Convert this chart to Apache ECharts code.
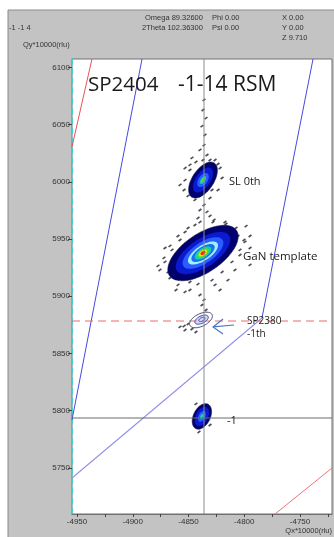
<!DOCTYPE html>
<html><head><meta charset="utf-8">
<script src="https://cdn.jsdelivr.net/npm/echarts@6/dist/echarts.min.js"></script>
<style>html,body{margin:0;padding:0;background:#fff}#c{width:334px;height:537px}</style>
</head><body><div id="c"></div>
<script>
// Axis ranges and ticks (Qx*10000, Qy*10000 in rlu)
const xMin = -4954.5, xMax = -4721.3;
const yMin = 5709.7, yMax = 6107.4;
const xTickLabels = [-4950, -4900, -4850, -4800, -4750];
const xMinorTicks = [-4950, -4925, -4900, -4875, -4850, -4825, -4800, -4775, -4750, -4725];
const yTickLabels = [5750, 5800, 5850, 5900, 5950, 6000, 6050, 6100];

// Peak intensity contours (filled ellipses): centre, semi-axes, tilt, level
const peakQx    = [-4837,-4837,-4837,-4837,-4837,-4837,-4837,-4837,-4837,  -4837,-4837,-4837,-4837,-4837,  -4838,-4838,-4838,-4838];
const peakQy    = [5937.8,5937.8,5937.8,5937.8,5937.8,5937.8,5937.8,5937.8,5937.8,  6001.6,6001.6,6001.6,6001.6,6001.6,  5795,5795,5795,5795];
const peakA     = [36,28,21,15.5,12,8.5,6,4,2.5,  18,12.5,7,4,2,  12,9,5,2.5];
const peakB     = [17,12.5,9.2,6.6,5.2,4,3,2.2,1.5,  9.5,6.5,4,2,1.2,  7.5,5.5,3,1.5];
const peakAngle = [33,33,33,33,33,33,33,33,33,  55,55,55,55,55,  62,62,62,62];
const peakLevel = [0,1,2,3,4,5,6,7,8,  0,1,2,5,6,  0,1,2,5];

// SP2380 -1th satellite contour outlines
const contourQx    = [-4838.8, -4838.3, -4838.0];
const contourQy    = [5879.3, 5879.6, 5879.8];
const contourA     = [11, 6.5, 3];
const contourB     = [5.5, 3.2, 1.5];
const contourAngle = [25, 25, 25];

// Weak scattered intensity (speckles)
const speckleQx = [-4836.1,-4837.0,-4834.3,-4837.9,-4835.2,-4836.1,-4839.7,-4833.4,-4837.0,
  -4853.1,-4848.7,-4826.2,-4821.7,-4823.5,-4850.4,-4844.2,-4830.7,-4857.6,-4819.9,-4846.9,
  -4836.1,-4839.7,-4833.4,-4830.7,-4841.5,-4828.0,-4844.2,-4821.7,
  -4875.6,-4871.1,-4866.6,-4859.4,-4864.8,-4857.6,-4853.1,-4812.8,-4805.6,-4799.3,-4803.8,-4808.3,-4814.6,-4826.2,-4848.7,-4839.7,-4794.8,-4817.3,-4871.1,-4794.8,
  -4868.4,-4862.1,-4855.8,-4848.7,-4841.5,-4828.9,-4819.9,-4811.0,-4803.8,-4800.2,-4807.4,-4816.4,-4827.1,-4839.7,-4850.4,-4859.4,-4866.6,-4872.0,-4877.4,-4861.2,-4794.8,-4798.4,-4821.7,-4853.1,
  -4848.7,-4853.1,-4845.1,-4839.7,-4827.1,-4823.5,-4830.7,-4843.3,-4828.9,-4854.0,
  -4836.1,-4837.9,-4834.3,
  -4857.6,-4854.0,-4850.4,-4846.9,-4843.3,-4853.1,
  -4843.3,-4830.7,-4840.6];
const speckleQy = [6071.6,6062.8,6055.8,6048.8,6041.0,6032.2,6027.9,6023.5,6019.1,
  6012.1,6014.8,6019.1,6012.1,5992.9,5987.7,5984.2,5985.9,5997.3,6003.4,6020.9,
  5979.8,5975.4,5973.7,5970.2,5968.4,5964.9,5962.3,5959.7,
  5923.0,5930.0,5916.0,5909.9,5940.5,5949.2,5956.2,5957.9,5952.7,5947.5,5936.1,5923.0,5914.2,5909.9,5905.5,5901.1,5942.2,5964.9,5942.2,5927.4,
  5921.2,5924.7,5917.7,5912.5,5910.7,5914.2,5921.2,5930.0,5940.5,5949.2,5959.7,5963.2,5966.7,5964.9,5959.7,5952.7,5944.0,5933.5,5926.5,5905.5,5952.7,5961.4,5905.5,5903.8,
  6010.4,6001.6,5991.2,5987.7,6010.4,6015.6,6019.1,6017.4,5992.9,5992.9,
  5896.8,5892.4,5888.0,
  5873.2,5874.0,5875.8,5871.4,5868.8,5870.5,
  5805.9,5787.5,5781.4];

// Reference / guide lines
const redLine1  = [[-4954.5, 6030.7], [-4936.6, 6107.4]];
const redLine2  = [[-4772.4, 5709.7], [-4721.3, 5749.9]];
const blueLine1 = [[-4891.7, 6107.4], [-4954.5, 5791.9]];
const blueLine2 = [[-4738.3, 6107.4], [-4784.1, 5881.0]];
const blueLine3 = [[-4784.1, 5881.0], [-4954.5, 5741.2]];
const crossQx = -4836.1;
const crossQy = 5793.6;
const dashedQy = 5878.4;
const arrowPts = [[-4828.0, 5873.2, -4809.2, 5874.9]];

const levelColors = ['#00006e','#0a1ad0','#2a5cff','#a0f0ff','#1a70f0','#10d0b0','#50e030','#f0f000','#ff2000'];

function ellipse(api, cx, cy, a, b, ang) {
  const t = ang * Math.PI / 180, pts = [];
  for (let i = 0; i < 48; i++) {
    const p = i / 48 * Math.PI * 2;
    const dx = a * Math.cos(p), dy = b * Math.sin(p);
    pts.push(api.coord([cx + dx * Math.cos(t) - dy * Math.sin(t), cy + dx * Math.sin(t) + dy * Math.cos(t)]));
  }
  return pts;
}

const peakData = peakQx.map((v, i) => [v, peakQy[i], peakA[i], peakB[i], peakAngle[i], peakLevel[i]]);
const contourData = contourQx.map((v, i) => [v, contourQy[i], contourA[i], contourB[i], contourAngle[i]]);
const speckleData = speckleQx.map((v, i) => [v, speckleQy[i]]);

function lineSeries(data, color, width, type, z) {
  return { type: 'line', data: data, symbol: 'none', silent: true, z: z || 3,
    lineStyle: { color: color, width: width, type: type || 'solid' }, animation: false };
}

const chart = echarts.init(document.getElementById('c'), null, { renderer: 'canvas' });
const hdr = (x, y, s) => ({ type: 'text', x: x, y: y, style: { text: s, fontSize: 7.5, fontFamily: 'Liberation Sans', fill: '#333', verticalAlign: 'middle' } });
const ann = (x, y, s, size) => ({ type: 'text', x: x, y: y, z: 50, style: { text: s, fontSize: size, fontFamily: 'Open Sans', fill: '#1a1a1a', verticalAlign: 'middle' } });

chart.setOption({
  animation: false,
  backgroundColor: '#ffffff',
  graphic: [
    { type: 'rect', shape: { x: 8, y: 10, width: 330, height: 530 }, z: -10,
      style: { fill: '#c3c3c3', stroke: '#8a8a8a', lineWidth: 1 } },
    hdr(9, 28, '-1 -1 4'),
    hdr(145, 18, 'Omega 89.32600'),
    hdr(142, 28, '2Theta 102.36300'),
    hdr(212, 18, 'Phi 0.00'),
    hdr(212, 28, 'Psi 0.00'),
    hdr(282, 18, 'X 0.00'),
    hdr(282, 28, 'Y 0.00'),
    hdr(282, 38, 'Z 9.710'),
    hdr(23, 45, 'Qy*10000(rlu)'),
    { type: 'text', x: 332, y: 531, style: { text: 'Qx*10000(rlu)', fontSize: 7.5, fontFamily: 'Liberation Sans', fill: '#333', align: 'right', verticalAlign: 'middle' } },
    ann(88, 85, 'SP2404', 20.5),
    ann(178, 85, '-1-14 RSM', 21),
    ann(229, 182, 'SL 0th', 11),
    ann(243, 257, 'GaN template', 11.5),
    ann(247, 321, 'SP2380', 10),
    ann(247, 334, '-1th', 10),
    ann(227, 421, '-1', 11)
  ],
  grid: { left: 72, top: 59, width: 260, height: 455, show: true, backgroundColor: '#ffffff', borderColor: '#707070', borderWidth: 1 },
  xAxis: {
    type: 'value', min: xMin, max: xMax,
    splitLine: { show: false },
    axisLine: { show: true, onZero: false, lineStyle: { color: '#707070', width: 1 } },
    axisTick: { show: true, length: 3, customValues: xMinorTicks, lineStyle: { color: '#444' } },
    axisLabel: { customValues: xTickLabels, formatter: v => String(v), fontSize: 8, fontFamily: 'Liberation Sans', color: '#333', margin: 4 }
  },
  yAxis: {
    type: 'value', min: yMin, max: yMax,
    splitLine: { show: false },
    axisLine: { show: true, onZero: false, lineStyle: { color: '#20d8d8', width: 1.5, type: [6, 4] } },
    axisTick: { show: true, length: 4, customValues: yTickLabels, lineStyle: { color: '#444' } },
    axisLabel: { customValues: yTickLabels, formatter: v => String(v), fontSize: 8, fontFamily: 'Liberation Sans', color: '#333', margin: 2 }
  },
  series: [
    lineSeries(redLine1, '#e8505a', 1, 'solid', 2),
    lineSeries(redLine2, '#f07078', 1, 'solid', 2),
    lineSeries(blueLine1, '#4848e0', 1, 'solid', 2),
    lineSeries(blueLine2, '#4848e0', 1, 'solid', 2),
    lineSeries(blueLine3, '#9090ea', 1.1, 'solid', 2),
    lineSeries([[xMin, dashedQy], [xMax, dashedQy]], '#ee6a6a', 1.2, [8, 5], 2),
    {
      type: 'scatter', data: speckleData, symbol: 'rect', symbolSize: [3.5, 1.6], symbolRotate: 35,
      itemStyle: { color: '#2b2b38', opacity: 0.85 }, silent: true, z: 4, animation: false
    },
    {
      type: 'custom', data: peakData, encode: { x: 0, y: 1 }, silent: true, z: 5, animation: false,
      renderItem: function (params, api) {
        const lv = api.value(5);
        return { type: 'polygon', shape: { points: ellipse(api, api.value(0), api.value(1), api.value(2), api.value(3), api.value(4)), smooth: 0.2 },
          style: { fill: levelColors[lv], stroke: lv === 0 ? '#1a1a40' : null, lineWidth: 0.6 } };
      }
    },
    {
      type: 'custom', data: contourData, encode: { x: 0, y: 1 }, silent: true, z: 5, animation: false,
      renderItem: function (params, api) {
        const i = params.dataIndex;
        return { type: 'polygon', shape: { points: ellipse(api, api.value(0), api.value(1), api.value(2), api.value(3), api.value(4)) },
          style: { fill: i === 1 ? 'rgba(180,190,240,0.6)' : 'rgba(255,255,255,0)', stroke: i === 0 ? '#505066' : '#3b46b0', lineWidth: 1 } };
      }
    },
    lineSeries([[crossQx, yMin], [crossQx, yMax]], '#8c8c8c', 1, 'solid', 6),
    lineSeries([[xMin, crossQy], [xMax, crossQy]], '#6c6c6c', 1, 'solid', 6),
    {
      type: 'custom', data: arrowPts, encode: { x: 0, y: 1 }, silent: true, z: 7, animation: false,
      renderItem: function (params, api) {
        const p1 = api.coord([api.value(0), api.value(1)]);
        const p2 = api.coord([api.value(2), api.value(3)]);
        const st = { stroke: '#4a78c0', lineWidth: 1.2, fill: null };
        return { type: 'group', children: [
          { type: 'line', shape: { x1: p1[0], y1: p1[1], x2: p2[0], y2: p2[1] }, style: st },
          { type: 'polyline', shape: { points: [[p1[0] + 10, p1[1] - 8], p1, [p1[0] + 10, p1[1] + 7]] }, style: st }
        ] };
      }
    }
  ]
});
</script></body></html>
